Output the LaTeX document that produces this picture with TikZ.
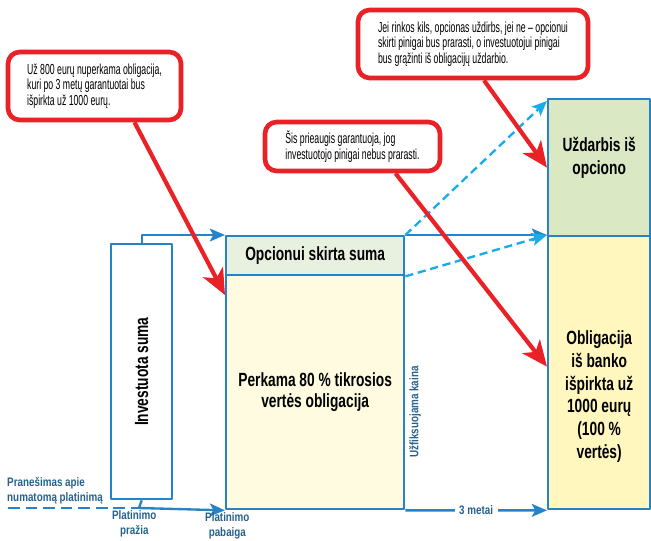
\documentclass[tikz,border=0pt]{standalone}
\usepackage{fontspec}
\setmainfont[FakeStretch=0.72]{Liberation Sans}
\newfontfamily\lblfont[FakeStretch=0.8]{Liberation Sans}
\newfontfamily\notefont[FakeStretch=0.6]{Liberation Sans}
\usepackage{graphicx}
\usetikzlibrary{arrows.meta,calc}
\usetikzlibrary{positioning}
\definecolor{bline}{RGB}{38,131,200}
\definecolor{dline}{RGB}{25,172,232}
\definecolor{rline}{RGB}{234,34,40}
\definecolor{hfill}{RGB}{232,241,224}
\definecolor{gfill}{RGB}{218,232,196}
\definecolor{yfill}{RGB}{254,251,224}
\definecolor{ofill}{RGB}{255,247,190}
\definecolor{ltext}{RGB}{38,98,140}
\tikzset{blk/.style={draw=bline,line width=2pt,anchor=north west,inner sep=0pt,align=center,font=\bfseries\fontsize{16.3}{19.4}\selectfont},
  callout/.style={draw=rline,line width=4pt,rounded corners=10pt,fill=white,align=left,inner xsep=2pt,font=\notefont\fontsize{12.4}{13.2}\selectfont},
  lbl/.style={text=ltext,inner sep=0pt,align=center,font=\lblfont\bfseries\fontsize{10.5}{12.6}\selectfont},
  barrow/.style={draw=bline,line width=2pt,-{Stealth[length=13pt,width=11pt,inset=3pt]}},
  darrow/.style={draw=dline,line width=2pt,dash pattern=on 7pt off 4pt,-{Stealth[length=13pt,width=11pt,inset=3pt]}},
  rarrow/.style={draw=rline,line width=3.6pt,-{Stealth[length=22pt,width=19pt,inset=6pt]}}}

\begin{document}
\begin{tikzpicture}[x=0.03cm,y=-0.03cm,line join=round]
\useasboundingbox (0,0) rectangle (651,541);
% --- the three columns
\node[blk,minimum width=1.83cm,minimum height=7.65cm] (inv) at (110,243) {\rotatebox{90}{Investuota suma}};
\node[blk,fill=hfill,minimum width=5.34cm,minimum height=1.17cm] (opc) at (225,235) {Opcionui skirta suma};
\node[blk,fill=yfill,minimum width=5.34cm,minimum height=7.02cm] (perk) at (225,274) {Perkama 80 \% tikrosios\\[-1pt]vertės obligacija};
\node[blk,fill=gfill,minimum width=3.06cm,minimum height=4.11cm] (uzd) at (547,98) {};
\node[blk,fill=ofill,minimum width=3.06cm,minimum height=8.19cm] (obl) at (547,235) {};
\node[blk,draw=none,anchor=center] (uzdtxt) at ($(uzd.center)+(0,-10)$) {Uždarbis iš\\opciono};
\node[blk,draw=none,anchor=center] (obltxt) at ($(obl.center)+(0,24)$) {Obligacija\\iš banko\\išpirkta už\\1000 eurų\\(100 \%\\vertės)};
% --- time line
\coordinate (ann) at (8,508);
\coordinate (start) at (139,508);
\draw[draw=bline,line width=2pt,dash pattern=on 10pt off 5pt] (ann) -- (start);
\draw[draw=bline,line width=2pt] (inv.south) -- (start);
\draw[barrow] (start) -- (perk.south west);
\draw[barrow] (inv.north) |- (opc.north west);
\draw[barrow] (opc.north east) -- (obl.north west);
\draw[darrow] (opc.north east) -- ($(uzd.north west)+(0,3)$);
\draw[darrow] (opc.south east) -- (obl.north west);
\draw[barrow] (perk.south east) -- node[lbl,fill=white,inner xsep=4pt] (yrs) {3 metai} (obl.south west);
\node[lbl,align=left,anchor=south west] (anntxt) at (7,504) {Pranešimas apie\\numatomą platinimą};
\node[lbl,below=2pt of start,xshift=-4pt] (pstart) {Platinimo\\pražia};
\node[lbl,below=2pt of perk.south west,xshift=2pt] (pend) {Platinimo\\pabaiga};
\node[lbl,rotate=90] (fix) at (415,412) {Užfiksuojama kaina};
% --- red notes
\node[callout,minimum width=5.19cm,minimum height=2.04cm] (c1) at (94.5,86) {Už 800 eurų nuperkama obligacija,\\kuri po 3 metų garantuotai bus\\išpirkta už 1000 eurų.};
\node[callout,minimum width=5.25cm,minimum height=1.47cm] (c2) at (352.5,146.5) {Šis prieaugis garantuoja, jog\\investuotojo pinigai nebus prarasti.};
\node[callout,minimum width=6.9cm,minimum height=2.04cm] (c3) at (473,44) {Jei rinkos kils, opcionas uždirbs, jei ne – opcionui\\skirti pinigai bus prarasti, o investuotojui pinigai\\bus grąžinti iš obligacijų uždarbio.};
\draw[rarrow] ($(c1.south)+(40,0)$) -- ($(perk.north west)+(0,21)$);
\draw[rarrow] ($(c2.south)+(43,0)$) -- ($(obl.west)+(0,-6)$);
\draw[rarrow] ($(c3.south)+(11,0)$) -- (uzd.west);
\end{tikzpicture}
\end{document}
